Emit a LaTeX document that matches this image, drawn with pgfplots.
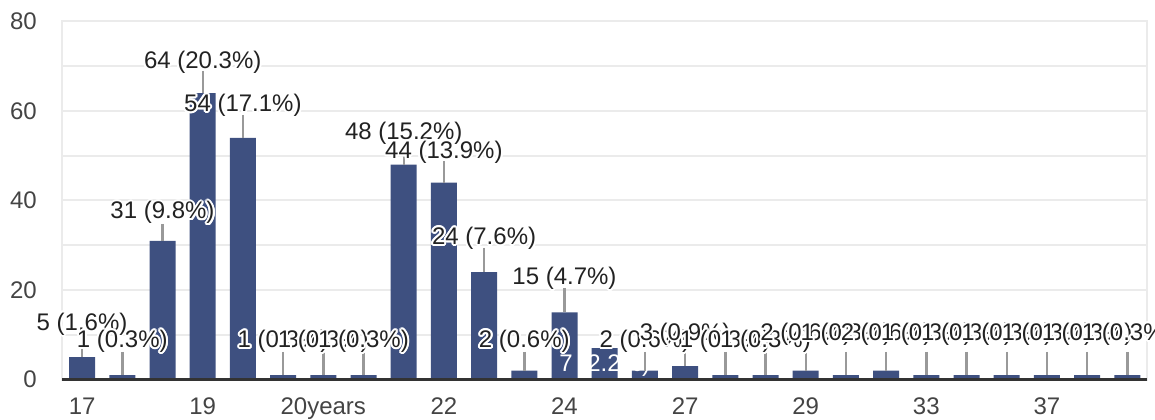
\documentclass[border=0pt]{standalone}
\usepackage{fontspec}
\setmainfont{Liberation Sans}
\usepackage{pgfplots}
\pgfplotsset{compat=1.18}
\usepackage{contour}
\contourlength{2bp}

\definecolor{barblue}{HTML}{3E5080}
\definecolor{gridgray}{HTML}{EBEBEB}
\definecolor{axisdark}{HTML}{333333}
\definecolor{leadergray}{HTML}{999999}
\definecolor{labelcol}{HTML}{222222}
\definecolor{tickcol}{HTML}{444444}
\newcommand\lab{\fontsize{24bp}{28bp}\selectfont}

% counts per age group (316 answers)
\pgfplotstableread{
x v
0 5
1 1
2 31
3 64
4 54
5 1
6 1
7 1
8 48
9 44
10 24
11 2
12 15
13 7
14 2
15 3
16 1
17 1
18 2
19 1
20 2
21 1
22 1
23 1
24 1
25 1
26 1
}\counts

% leader lines: label foot -> bar top
\pgfplotstableread{
x y
0 9.94
0 5
0 nan
1 6.15
1 1
1 nan
2 34.75
2 31
2 nan
3 68.94
3 64
3 nan
4 59.11
4 54
4 nan
5 6.15
5 1
5 nan
6 6.15
6 1
6 nan
7 6.15
7 1
7 nan
8 53.07
8 48
8 nan
9 48.83
9 44
9 nan
10 29.39
10 24
10 nan
11 6.15
11 2
11 nan
12 20.45
12 15
12 nan
14 6.15
14 2
14 nan
15 6.15
15 3
15 nan
16 6.15
16 1
16 nan
17 6.15
17 1
17 nan
18 6.15
18 2
18 nan
19 6.15
19 1
19 nan
20 6.15
20 2
20 nan
21 6.15
21 1
21 nan
22 6.15
22 1
22 nan
23 6.15
23 1
23 nan
24 6.15
24 1
24 nan
25 6.15
25 1
25 nan
26 6.15
26 1
}\leaders

\begin{document}
\begin{tikzpicture}
\begin{axis}[
  at={(0,0)}, anchor=south west,
  scale only axis, width=1085.4bp, height=358bp,
  xmin=-0.5, xmax=26.5, ymin=0, ymax=80,
  ytick={0,20,40,60,80}, minor ytick={10,30,50,70},
  ymajorgrids, yminorgrids,
  major grid style={draw=gridgray, line width=2bp},
  minor grid style={draw=gridgray, line width=2bp},
  xtick={0,3,6,9,12,15,18,21,24},
  xticklabels={17,19,20years,22,24,27,29,33,37},
  major tick length=0pt, minor tick length=0pt,
  axis line style={draw=gridgray, line width=2bp},
  ticklabel style={font=\lab, text=tickcol, inner sep=0pt},
  yticklabel style={anchor=east, xshift=-25bp},
  xticklabel style={anchor=north, yshift=-18.5bp},
  /pgf/number format/assume math mode=true,
  unbounded coords=jump,
  clip=false,
]
\addplot[ybar, bar width=26bp, bar shift=0pt, fill=barblue, draw=none] table[x=x, y=v] {\counts};
\draw[draw=axisdark, line width=3bp] (rel axis cs:0,0) -- (rel axis cs:1,0);
\node[anchor=base, inner sep=0pt, font=\lab, text=white] at (axis cs:13,1.68) {7 (2.2\%)};
\addplot[draw=leadergray, line width=2.4bp, mark=none] table[x=x, y=y] {\leaders};

\begin{scope}[every node/.style={anchor=base, inner sep=0pt, font=\lab, text=labelcol}]
\node at (axis cs:0,11.06) {\contour{white}{5 (1.6\%)}};
\node at (axis cs:1,7.15) {\contour{white}{1 (0.3\%)}};
\node at (axis cs:2,35.87) {\contour{white}{31 (9.8\%)}};
\node at (axis cs:3,69.54) {\contour{white}{64 (20.3\%)}};
\node at (axis cs:4,59.89) {\contour{white}{54 (17.1\%)}};
\node at (axis cs:5,7.15) {\contour{white}{1 (0.3\%)}};
\node at (axis cs:6,7.15) {\contour{white}{1 (0.3\%)}};
\node at (axis cs:7,7.15) {\contour{white}{1 (0.3\%)}};
\node at (axis cs:8,53.74) {\contour{white}{48 (15.2\%)}};
\node at (axis cs:9,49.43) {\contour{white}{44 (13.9\%)}};
\node at (axis cs:10,30.17) {\contour{white}{24 (7.6\%)}};
\node at (axis cs:11,7.15) {\contour{white}{2 (0.6\%)}};
\node at (axis cs:12,21.23) {\contour{white}{15 (4.7\%)}};
\node at (axis cs:14,7.15) {\contour{white}{2 (0.6\%)}};
\node at (axis cs:15,8.8) {\contour{white}{3 (0.9\%)}};
\node at (axis cs:16,7.15) {\contour{white}{1 (0.3\%)}};
\node at (axis cs:17,7.15) {\contour{white}{1 (0.3\%)}};
\node at (axis cs:18,8.72) {\contour{white}{2 (0.6\%)}};
\node at (axis cs:19,8.72) {\contour{white}{1 (0.3\%)}};
\node at (axis cs:20,8.72) {\contour{white}{2 (0.6\%)}};
\node at (axis cs:21,8.72) {\contour{white}{1 (0.3\%)}};
\node at (axis cs:22,8.72) {\contour{white}{1 (0.3\%)}};
\node at (axis cs:23,8.72) {\contour{white}{1 (0.3\%)}};
\node at (axis cs:24,8.72) {\contour{white}{1 (0.3\%)}};
\node at (axis cs:25,8.72) {\contour{white}{1 (0.3\%)}};
\node at (axis cs:26,8.72) {\contour{white}{1 (0.3\%)}};
\end{scope}
\end{axis}
\pgfresetboundingbox
\path[use as bounding box] (-62bp,-40.5bp) rectangle (1093bp,379.5bp);
\end{tikzpicture}
\end{document}
